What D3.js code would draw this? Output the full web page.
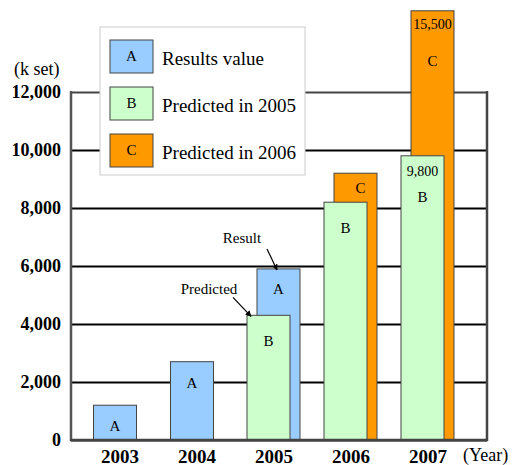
<!DOCTYPE html>
<html><head><meta charset="utf-8">
<script src="https://cdn.jsdelivr.net/npm/d3@7"></script>
<style>body{margin:0;background:#fff}svg{display:block}svg text{font-family:"Liberation Serif","Times New Roman",serif}</style>
</head><body>
<script>
const years = ["2003","2004","2005","2006","2007"];
const resultsA = [1200, 2700, 5900, null, null];
const predicted2005B = [null, null, 4300, 8200, 9800];
const predicted2006C = [null, null, null, 9200, 15500];
const yTicks = [0, 2000, 4000, 6000, 8000, 10000, 12000];
const legendItems = [
  {key:"A", label:"Results value"},
  {key:"B", label:"Predicted in 2005"},
  {key:"C", label:"Predicted in 2006"}
];
const brokenCap = 14800; // visual top of off-scale bar

const colors = {A:"#99CCFF", B:"#CCFFCC", C:"#FF9900"};
const font = "Liberation Serif";
const W = 513, H = 465;
const L = 71, R = 487, T = 92, B = 440;
const barW = 43;

const svg = d3.select("body").append("svg").attr("width", W).attr("height", H);

const y = d3.scaleLinear().domain([0, 12000]).range([B, T]);
const x = d3.scalePoint().domain(years).range([120, 428]);

svg.append("defs").append("marker").attr("id","arr")
  .attr("viewBox","0 0 10 10").attr("refX",9).attr("refY",5)
  .attr("markerWidth",5).attr("markerHeight",5).attr("orient","auto")
  .append("path").attr("d","M0,0L10,5L0,10z").attr("fill","#000");

const gAxis = svg.append("g").attr("transform", `translate(${L},0)`)
  .call(d3.axisLeft(y).tickValues(yTicks).tickSize(-(R - L)).tickPadding(10)
    .tickFormat(d3.format(",")));
gAxis.attr("font-family", font);
gAxis.select(".domain").remove();
gAxis.selectAll(".tick line").attr("stroke", d => d === 12000 ? "#444" : "#000")
  .attr("stroke-width", 2);
gAxis.selectAll(".tick text").attr("font-size", 18)
  .attr("font-weight", "bold").attr("fill", "#000");

svg.append("line").attr("x1",L).attr("x2",L).attr("y1",T-1).attr("y2",B+1)
  .attr("stroke","#555").attr("stroke-width",2.5);
svg.append("line").attr("x1",R).attr("x2",R).attr("y1",T-1).attr("y2",B+1)
  .attr("stroke","#444").attr("stroke-width",2.5);

const bars = svg.append("g");
const labels = svg.append("g");
function bar(key, value, left) {
  const top = y(Math.min(value, brokenCap));
  bars.append("rect").attr("x", left).attr("y", top).attr("width", barW)
    .attr("height", B - top).attr("fill", colors[key]).attr("stroke", "#444").attr("stroke-width", 1);
  return {left, top};
}
const info = {};
years.forEach((yr, i) => {
  const cx = x(yr);
  const a = resultsA[i], b = predicted2005B[i], c = predicted2006C[i];
  const last = i === years.length - 1;
  if (b == null) {
    const r = bar("A", a, cx - 5 - barW / 2);
    labels.append("text").attr("x", r.left + barW/2).attr("y", r.top + 21).text("A");
    return;
  }
  const frontLeft = cx - 27, backLeft = frontLeft + 10;
  const backKey = a != null ? "A" : "C";
  const backVal = a != null ? a : c;
  const rb = bar(backKey, backVal, backLeft);
  const rf = bar("B", b, frontLeft);
  info[yr] = {back: rb, front: rf};
  if (last) {
    labels.append("text").attr("x", rb.left + barW/2).attr("y", rb.top + 14).attr("class","val").text(d3.format(",")(backVal));
    labels.append("text").attr("x", rb.left + barW/2).attr("y", rb.top + 50).text(backKey);
    labels.append("text").attr("x", rf.left + barW/2).attr("y", rf.top + 16).attr("class","val").text(d3.format(",")(b));
    labels.append("text").attr("x", rf.left + barW/2).attr("y", rf.top + 41).text("B");
  } else {
    const backY = backKey === "A" ? rb.top + 20 : (rb.top + rf.top) / 2;
    labels.append("text").attr("x", rb.left + barW/2 + (backKey === "C" ? 5 : 0)).attr("y", backY).text(backKey);
    labels.append("text").attr("x", rf.left + barW/2).attr("y", rf.top + 26).text("B");
  }
});
labels.selectAll("text").attr("text-anchor","middle").attr("dominant-baseline","central")
  .attr("font-size", 15).attr("fill","#000");
labels.selectAll("text.val").attr("font-size", 14);

const g5 = info["2005"];
svg.append("text").attr("x", g5.back.left - 15).attr("y", g5.back.top - 31)
  .attr("text-anchor","middle").attr("dominant-baseline","central").attr("font-size",15).text("Result");
svg.append("line").attr("x1", g5.back.left + 10).attr("y1", g5.back.top - 20)
  .attr("x2", g5.back.left + 20).attr("y2", g5.back.top + 1)
  .attr("stroke","#000").attr("stroke-width",1.2).attr("marker-end","url(#arr)");
svg.append("text").attr("x", g5.front.left - 38).attr("y", g5.front.top - 26)
  .attr("text-anchor","middle").attr("dominant-baseline","central").attr("font-size",15).text("Predicted");
svg.append("line").attr("x1", g5.front.left - 14).attr("y1", g5.front.top - 18)
  .attr("x2", g5.front.left + 4).attr("y2", g5.front.top + 1)
  .attr("stroke","#000").attr("stroke-width",1.2).attr("marker-end","url(#arr)");

svg.append("line").attr("x1",L-1).attr("x2",R+1).attr("y1",B).attr("y2",B)
  .attr("stroke","#444").attr("stroke-width",2.5);

svg.append("g").selectAll("text").data(years).join("text")
  .attr("x", d => x(d)).attr("y", 456).attr("text-anchor","middle")
  .attr("dominant-baseline","central").attr("font-size",19).attr("font-weight","bold").text(d => d);
svg.append("text").attr("x", 463).attr("y", 455).attr("dominant-baseline","central")
  .attr("font-size",18).text("(Year)");
svg.append("text").attr("x", 14).attr("y", 69).attr("dominant-baseline","central")
  .attr("font-size",18).text("(k set)");

const lg = svg.append("g");
lg.append("rect").attr("x",100).attr("y",27).attr("width",205).attr("height",148)
  .attr("fill","#fff").attr("stroke","#ccc").attr("stroke-width",1);
legendItems.forEach((it, i) => {
  const yy = 40 + i * 47;
  lg.append("rect").attr("x",110).attr("y",yy).attr("width",43).attr("height",33)
    .attr("fill",colors[it.key]).attr("stroke","#444").attr("stroke-width",1);
  lg.append("text").attr("x",131.5).attr("y",yy+16).attr("text-anchor","middle")
    .attr("dominant-baseline","central").attr("font-size",15).text(it.key);
  lg.append("text").attr("x",162).attr("y",yy+18).attr("dominant-baseline","central")
    .attr("font-size",19).text(it.label);
});
</script>
</body></html>
